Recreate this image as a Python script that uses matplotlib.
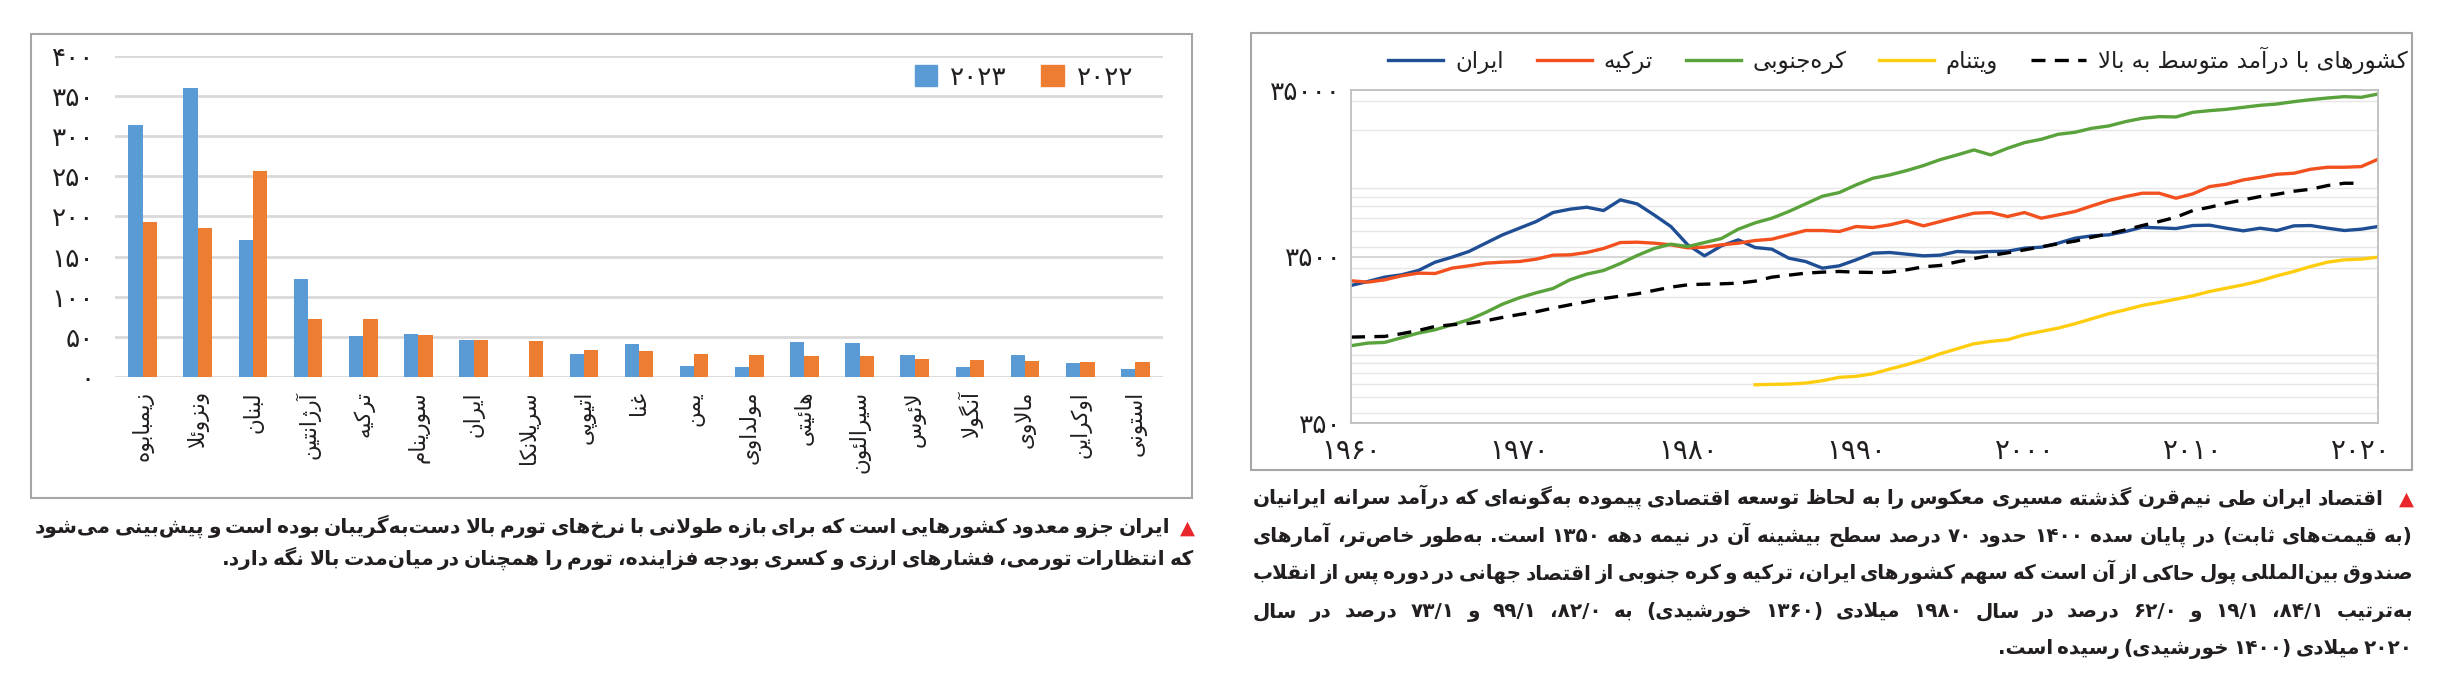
import numpy as np
import matplotlib
matplotlib.use("Agg")
import matplotlib.pyplot as plt
from matplotlib.patches import Rectangle
from matplotlib.ticker import LogLocator, NullFormatter

W, H = 2451, 676

# ---------------- data: left chart (inflation, percent)
countries = ["زیمبابوه", "ونزوئلا", "لبنان", "آرژانتین", "ترکیه", "سورینام", "ایران",
             "سریلانکا", "اتیوپی", "غنا", "یمن", "مولداوی", "هائیتی", "سیرالئون",
             "لائوس", "آنگولا", "مالاوی", "اوکراین", "استونی"]
infl_2023 = [314, 360, 170, 122, 51, 53, 46, 0, 29, 41, 14, 12, 44, 42, 27, 12, 27, 17, 10]
infl_2022 = [193, 185, 256, 72, 72, 52, 46, 45, 34, 32, 29, 27, 26, 26, 22, 21, 20, 19, 19]
bar_yticks = [0, 50, 100, 150, 200, 250, 300, 350, 400]
bar_legend = ["2023", "2022"]

# ---------------- data: right chart (GDP per capita, log scale)
years = list(range(1960, 2022))
iran = [2345, 2478, 2631, 2717, 2884, 3236, 3468, 3750, 4208, 4721,
        5177, 5677, 6429, 6731, 6920, 6608, 7658, 7245, 6224, 5298,
        4112, 3532, 4056, 4406, 3963, 3873, 3420, 3266, 2979, 3076,
        3343, 3665, 3699, 3615, 3532, 3566, 3750, 3717, 3750, 3766,
        3927, 3982, 4208, 4508, 4656, 4721, 4944, 5250, 5200, 5152,
        5372, 5397, 5177, 4991, 5177, 5014, 5347, 5372, 5177, 5014,
        5106, 5298]
turkey = [2501, 2455, 2535, 2680, 2780, 2767, 2979, 3076, 3192, 3236,
          3266, 3373, 3566, 3581, 3699, 3909, 4245, 4266, 4208, 4112,
          3945, 3982, 4112, 4208, 4365, 4448, 4721, 5014, 5014, 4944,
          5298, 5225, 5420, 5728, 5347, 5677, 6026, 6370, 6429, 6083,
          6429, 5944, 6224, 6518, 7048, 7588, 8018, 8396, 8396, 7836,
          8319, 9206, 9507, 10094, 10471, 10916, 11068, 11698, 12026, 12026,
          12134, 13429]
korea = [1019, 1057, 1067, 1138, 1214, 1271, 1362, 1459, 1615, 1811,
         1977, 2119, 2249, 2535, 2742, 2884, 3177, 3549, 3909, 4151,
         4018, 4245, 4487, 5106, 5573, 5944, 6518, 7245, 8054, 8474,
         9422, 10328, 10815, 11483, 12306, 13367, 14259, 15278, 14259, 15635,
         16909, 17703, 18970, 19502, 20608, 21284, 22600, 23664, 24213, 24105,
         25708, 26306, 26796, 27545, 28319, 28844, 29789, 30625, 31339, 31920,
         31626, 33117]
vietnam = [np.nan] * 24 + [594, 597, 600, 608, 628, 658, 667, 692, 738, 784,
                           840, 912, 977, 1047, 1082, 1107, 1186, 1242, 1300, 1381,
                           1479, 1585, 1675, 1779, 1854, 1941, 2033, 2158, 2260, 2366,
                           2501, 2680, 2845, 3048, 3236, 3343, 3373, 3468]
umic = [1148, 1154, 1159, 1203, 1259, 1331, 1362, 1387, 1439, 1507,
        1570, 1630, 1714, 1795, 1871, 1959, 2023, 2090, 2188, 2291,
        2366, 2388, 2399, 2421, 2489, 2631, 2704, 2780, 2819, 2845,
        2819, 2806, 2819, 2911, 3035, 3091, 3251, 3404, 3549, 3682,
        3836, 4000, 4170, 4326, 4571, 4788, 5058, 5372, 5677, 6026,
        6608, 6920, 7312, 7658, 8018, 8281, 8631, 8873, 9335, 9639,
        9639, np.nan]
line_yticks = [350, 3500, 35000]
line_xticks = [1960, 1970, 1980, 1990, 2000, 2010, 2020]
line_names = ["ایران", "ترکیه", "کره‌جنوبی", "ویتنام", "کشورهای با درآمد متوسط به بالا"]

# ---------------- captions
cap_left = ["ایران جزو معدود کشورهایی است که برای بازه طولانی با نرخ‌های تورم بالا دست‌به‌گریبان بوده است و پیش‌بینی می‌شود",
            "که انتظارات تورمی، فشارهای ارزی و کسری بودجه فزاینده، تورم را همچنان در میان‌مدت بالا نگه دارد."]
cap_right = ["اقتصاد ایران طی نیم‌قرن گذشته مسیری معکوس را به لحاظ توسعه اقتصادی پیموده به‌گونه‌ای که درآمد سرانه ایرانیان",
             "(به قیمت‌های ثابت) در پایان سده ۱۴۰۰ حدود ۷۰ درصد سطح بیشینه آن در نیمه دهه ۱۳۵۰ است. به‌طور خاص‌تر، آمارهای",
             "صندوق بین‌المللی پول حاکی از آن است که سهم کشورهای ایران، ترکیه و کره جنوبی از اقتصاد جهانی در دوره پس از انقلاب",
             "به‌ترتیب ۱/۸۴، ۱/۱۹ و ۰/۶۲ درصد در سال ۱۹۸۰ میلادی (۱۳۶۰ خورشیدی) به ۰/۸۲، ۱/۹۹ و ۱/۷۳ درصد در سال",
             "۲۰۲۰ میلادی (۱۴۰۰ خورشیدی) رسیده است."]

# ---------------- minimal Persian shaping (matplotlib has no complex text layout)
FORMS = {
    'ء': ('\uFE80',), 'آ': ('\uFE81', '\uFE82'), 'أ': ('\uFE83', '\uFE84'),
    'ؤ': ('\uFE85', '\uFE86'), 'إ': ('\uFE87', '\uFE88'),
    'ئ': ('\uFE89', '\uFE8A', '\uFE8B', '\uFE8C'), 'ا': ('\uFE8D', '\uFE8E'),
    'ب': ('\uFE8F', '\uFE90', '\uFE91', '\uFE92'), 'ة': ('\uFE93', '\uFE94'),
    'ت': ('\uFE95', '\uFE96', '\uFE97', '\uFE98'), 'ث': ('\uFE99', '\uFE9A', '\uFE9B', '\uFE9C'),
    'ج': ('\uFE9D', '\uFE9E', '\uFE9F', '\uFEA0'), 'ح': ('\uFEA1', '\uFEA2', '\uFEA3', '\uFEA4'),
    'خ': ('\uFEA5', '\uFEA6', '\uFEA7', '\uFEA8'), 'د': ('\uFEA9', '\uFEAA'),
    'ذ': ('\uFEAB', '\uFEAC'), 'ر': ('\uFEAD', '\uFEAE'), 'ز': ('\uFEAF', '\uFEB0'),
    'س': ('\uFEB1', '\uFEB2', '\uFEB3', '\uFEB4'), 'ش': ('\uFEB5', '\uFEB6', '\uFEB7', '\uFEB8'),
    'ص': ('\uFEB9', '\uFEBA', '\uFEBB', '\uFEBC'), 'ض': ('\uFEBD', '\uFEBE', '\uFEBF', '\uFEC0'),
    'ط': ('\uFEC1', '\uFEC2', '\uFEC3', '\uFEC4'), 'ظ': ('\uFEC5', '\uFEC6', '\uFEC7', '\uFEC8'),
    'ع': ('\uFEC9', '\uFECA', '\uFECB', '\uFECC'), 'غ': ('\uFECD', '\uFECE', '\uFECF', '\uFED0'),
    'ف': ('\uFED1', '\uFED2', '\uFED3', '\uFED4'), 'ق': ('\uFED5', '\uFED6', '\uFED7', '\uFED8'),
    'ل': ('\uFEDD', '\uFEDE', '\uFEDF', '\uFEE0'), 'م': ('\uFEE1', '\uFEE2', '\uFEE3', '\uFEE4'),
    'ن': ('\uFEE5', '\uFEE6', '\uFEE7', '\uFEE8'), 'ه': ('\uFEE9', '\uFEEA', '\uFEEB', '\uFEEC'),
    'و': ('\uFEED', '\uFEEE'),
    'پ': ('\uFB56', '\uFB57', '\uFB58', '\uFB59'), 'چ': ('\uFB7A', '\uFB7B', '\uFB7C', '\uFB7D'),
    'ژ': ('\uFB8A', '\uFB8B'), 'ک': ('\uFB8E', '\uFB8F', '\uFB90', '\uFB91'),
    'گ': ('\uFB92', '\uFB93', '\uFB94', '\uFB95'), 'ی': ('\uFBFC', '\uFBFD', '\uFBFE', '\uFBFF'),
}
LAM_ALEF = {'ا': ('\uFEFB', '\uFEFC'), 'آ': ('\uFEF5', '\uFEF6'),
            'أ': ('\uFEF7', '\uFEF8'), 'إ': ('\uFEF9', '\uFEFA')}
DIGITS = set('۰۱۲۳۴۵۶۷۸۹0123456789')
MIRROR = {'(': ')', ')': '('}


def shape(s):
    dual = lambda c: c in FORMS and len(FORMS[c]) == 4
    joins = lambda c: c in FORMS and c != 'ء'
    out, i = [], 0
    while i < len(s):
        ch = s[i]
        if ch not in FORMS:
            if ch != '\u200c':
                out.append(ch)
            i += 1
            continue
        prev = i > 0 and dual(s[i - 1])
        if ch == 'ل' and i + 1 < len(s) and s[i + 1] in LAM_ALEF:
            out.append(LAM_ALEF[s[i + 1]][1 if prev else 0])
            i += 2
            continue
        nxt = dual(ch) and i + 1 < len(s) and joins(s[i + 1])
        f = FORMS[ch]
        if prev and nxt:
            g = f[3]
        elif nxt:
            g = f[2]
        elif prev and len(f) > 1:
            g = f[1]
        else:
            g = f[0]
        out.append(g)
        i += 1
    return ''.join(out)


def visual(s):
    toks = []
    for ch in shape(s):
        if ch in DIGITS and toks and toks[-1][-1] in DIGITS:
            toks[-1] += ch
        else:
            toks.append(ch)
    return ''.join(MIRROR.get(t, t) for t in reversed(toks))


def fa(v):
    return str(v).translate(str.maketrans('0123456789', '۰۱۲۳۴۵۶۷۸۹'))


def fx(px):
    return px / W


def fy(py):
    return 1 - py / H


plt.rcParams['font.family'] = ['DejaVu Sans']
fig = plt.figure(figsize=(W / 100, H / 100), dpi=100)
TXT = '#231F20'

# panel frames
for x0, y0, x1, y1 in [(31, 34, 1192, 498), (1251, 33, 2412, 470)]:
    fig.add_artist(Rectangle((fx(x0), fy(y1)), fx(x1) - fx(x0), fy(y0) - fy(y1),
                             transform=fig.transFigure, fill=False, ec='#A6A6A6', lw=1.5))

# ---------------- left: bar chart
ax1 = fig.add_axes([fx(115), fy(377), fx(1163) - fx(115), fy(55.7) - fy(377)])
x = np.arange(len(countries))
bw = 0.26
ax1.bar(x - bw / 2, infl_2023, bw, color='#5B9BD5')
ax1.bar(x + bw / 2, infl_2022, bw, color='#ED7D31')
ax1.set_xlim(-0.5, len(countries) - 0.5)
ax1.set_ylim(0, 400)
ax1.set_yticks(bar_yticks)
ax1.set_yticklabels([fa(v) for v in bar_yticks], fontsize=19, color=TXT)
ax1.set_xticks(x)
ax1.set_xticklabels([visual(c) for c in countries], rotation=90, va='top', ha='center',
                    fontsize=15.5, color=TXT)
ax1.yaxis.grid(True, color='#D9D9D9', lw=2)
ax1.set_axisbelow(True)
for s in ax1.spines.values():
    s.set_visible(False)
ax1.tick_params(length=0)
ax1.tick_params(axis='y', pad=15)
ax1.tick_params(axis='x', pad=10)

fig.legend([Rectangle((0, 0), 1, 1, color='#5B9BD5'), Rectangle((0, 0), 1, 1, color='#ED7D31')],
           [fa(v) for v in bar_legend], loc='center', bbox_to_anchor=(fx(1024), fy(78)),
           ncol=2, frameon=False, handlelength=0.85, handleheight=0.85, handletextpad=0.5,
           columnspacing=1.3, fontsize=19, labelcolor=TXT)

# ---------------- right: log line chart
ax2 = fig.add_axes([fx(1351), fy(423), fx(2378) - fx(1351), fy(90) - fy(423)])
ax2.set_yscale('log')
lw = 2.4
ln = []
ln += ax2.plot(years, iran, color='#1F4E94', lw=lw)
ln += ax2.plot(years, turkey, color='#F2501F', lw=lw)
ln += ax2.plot(years, korea, color='#5AA23B', lw=lw)
ln += ax2.plot(years, vietnam, color='#FFCD10', lw=lw)
ln += ax2.plot(years, umic, color='black', lw=lw, dashes=(4.2, 2.8))
ax2.set_xlim(1960, 2021)
ax2.set_ylim(350, 35000)
ax2.set_yticks(line_yticks)
ax2.set_yticklabels([fa(v) for v in line_yticks], fontsize=19, color=TXT)
ax2.yaxis.set_minor_locator(LogLocator(base=10, subs=np.arange(2, 10)))
ax2.yaxis.set_minor_formatter(NullFormatter())
ax2.set_xticks(line_xticks)
ax2.set_xticklabels([fa(v) for v in line_xticks], fontsize=20, color=TXT)
ax2.grid(True, which='major', axis='y', color='#D0D0D0', lw=1.2)
ax2.grid(True, which='minor', axis='y', color='#E6E6E6', lw=1)
for s in ax2.spines.values():
    s.set_color('#BFBFBF')
    s.set_linewidth(1.3)
ax2.tick_params(which='both', length=0)
ax2.tick_params(axis='y', pad=7)
ax2.tick_params(axis='x', pad=10)

fig.legend(ln, [visual(n) for n in line_names], loc='center', bbox_to_anchor=(fx(1898), fy(60)),
           ncol=5, frameon=False, fontsize=16.5, handlelength=2.4, handletextpad=0.5,
           columnspacing=1.45, labelcolor=TXT)

# ---------------- captions (justified, right to left)
renderer = fig.canvas.get_renderer()


def caption(lines, x_left, rights, centers, fs):
    rows = []
    for ln_ in lines:
        words = [visual(wd) for wd in ln_.split(' ')][::-1]
        rows.append([fig.text(0, 0, wd, fontsize=fs, fontweight='bold',
                              color=TXT, va='baseline', ha='left') for wd in words])

    def widths(ts):
        return [t.get_window_extent(renderer).width for t in ts]

    gap0 = fs * 100 / 72 * 0.2
    scale = 1.0
    for r, ts in enumerate(rows[:-1]):
        need = sum(widths(ts)) + gap0 * (len(ts) - 1)
        scale = min(scale, (rights[r] - x_left) / need)
    if scale < 1:
        for ts in rows:
            for t in ts:
                t.set_fontsize(fs * scale)
        gap0 *= scale
    for r, ts in enumerate(rows):
        ws = widths(ts)
        yb = fy(centers[r] + 6)
        if r < len(rows) - 1:
            gap = (rights[r] - x_left - sum(ws)) / (len(ts) - 1)
            xp = x_left
            for t, w in zip(ts, ws):
                t.set_position((fx(xp), yb))
                xp += w + gap
        else:
            xp = rights[r]
            for t, w in zip(ts[::-1], ws[::-1]):
                xp -= w
                t.set_position((fx(xp), yb))
                xp -= gap0


caption(cap_left, 35, [1170, 1194], [527, 559], 17)
caption(cap_right, 1253, [2384, 2413, 2413, 2413, 2413], [498, 536, 573, 611, 648], 17)

fig.text(fx(1195), fy(528), '▲', color='#E8262B', fontsize=14, ha='right', va='center')
fig.text(fx(2414), fy(499), '▲', color='#E8262B', fontsize=14, ha='right', va='center')

fig.savefig('out.png', dpi=100)
